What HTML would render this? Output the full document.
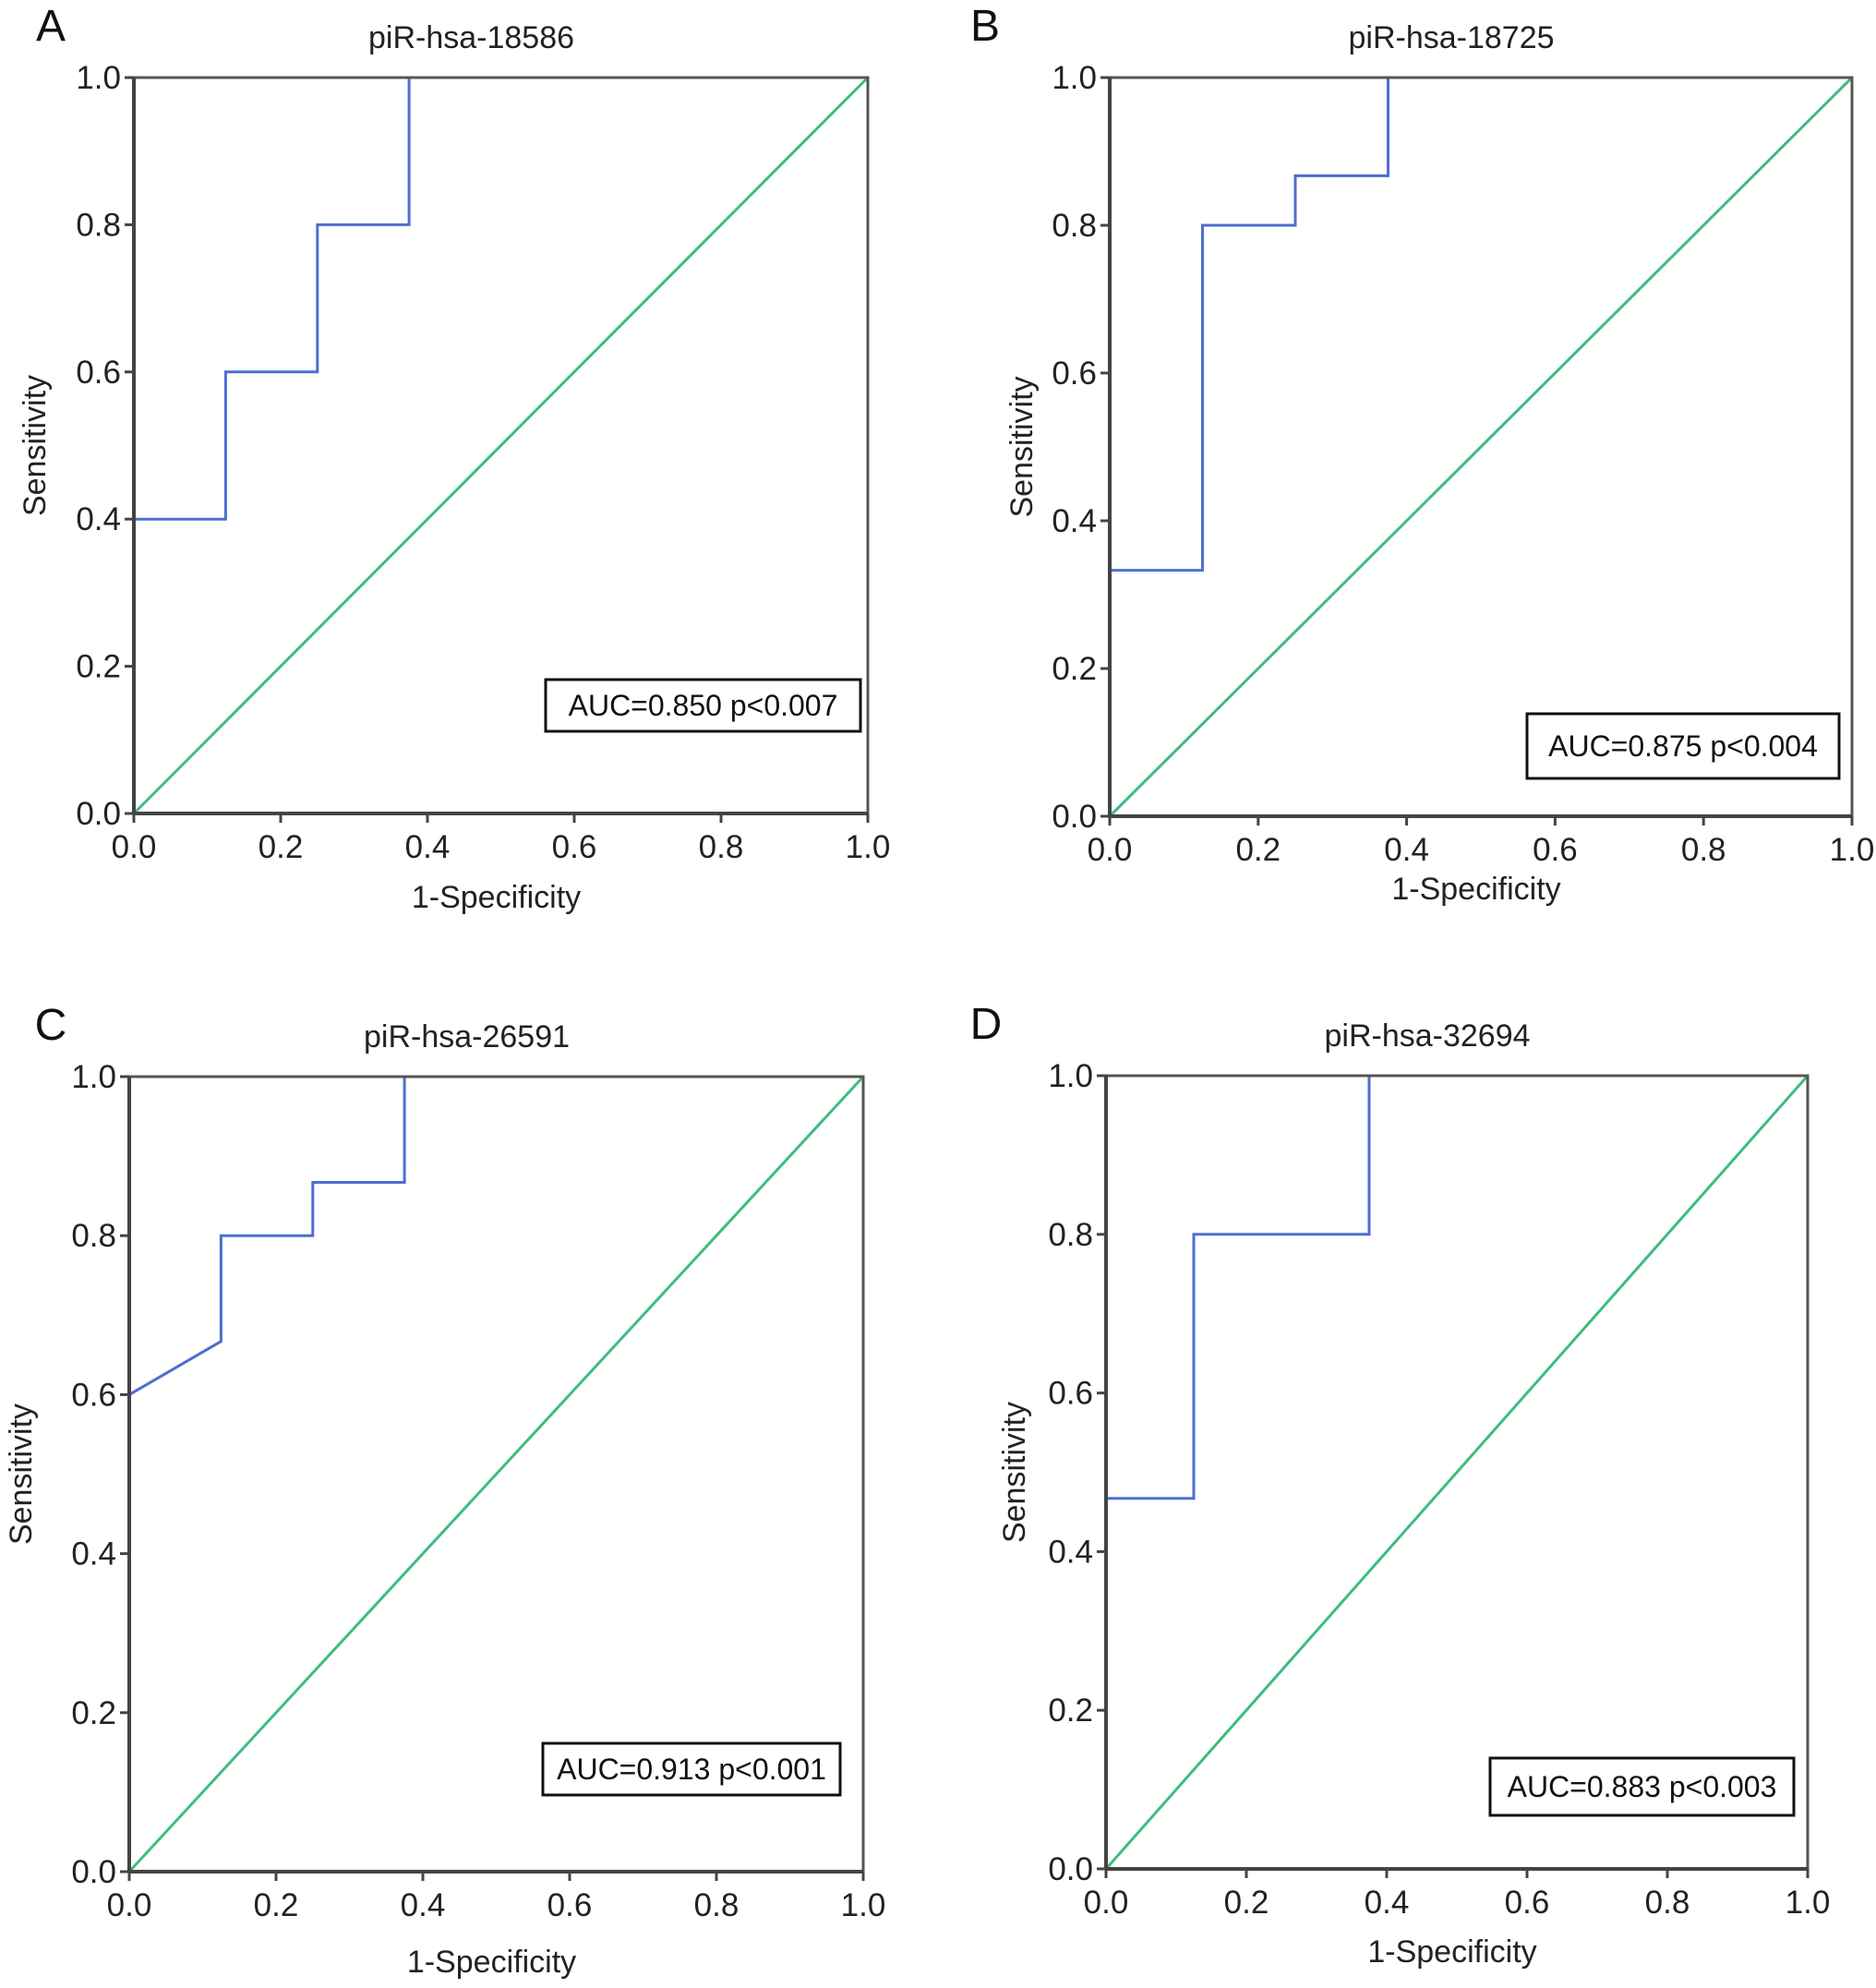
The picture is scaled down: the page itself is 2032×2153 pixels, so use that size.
<!DOCTYPE html>
<html><head><meta charset="utf-8"><style>
html,body{margin:0;padding:0;background:#fff;}
svg{display:block;font-family:"Liberation Sans",Arial,sans-serif;}
</style></head><body>
<svg id="fig" width="2032" height="2153" viewBox="0 0 2032 2153" xmlns="http://www.w3.org/2000/svg"></svg>
<script>
const panelLetters = ["A","B","C","D"];
const panelTitles = ["piR-hsa-18586","piR-hsa-18725","piR-hsa-26591","piR-hsa-32694"];
const aucLabels = ["AUC=0.850 p<0.007","AUC=0.875 p<0.004","AUC=0.913 p<0.001","AUC=0.883 p<0.003"];
const rocFprA = [0,0,0.125,0.125,0.25,0.25,0.375,0.375,1];
const rocTprA = [0,0.4,0.4,0.6,0.6,0.8,0.8,1,1];
const rocFprB = [0,0,0.125,0.125,0.25,0.25,0.375,0.375,1];
const rocTprB = [0,0.333,0.333,0.8,0.8,0.867,0.867,1,1];
const rocFprC = [0,0,0.125,0.125,0.25,0.25,0.375,0.375,1];
const rocTprC = [0,0.6,0.667,0.8,0.8,0.867,0.867,1,1];
const rocFprD = [0,0,0.125,0.125,0.375,0.375,1];
const rocTprD = [0,0.467,0.467,0.8,0.8,1,1];
const tickValues = [0,0.2,0.4,0.6,0.8,1.0];
const tickLabels = ["0.0","0.2","0.4","0.6","0.8","1.0"];

const layouts = [
 {l:145,r:940,t:84,b:881,box:[591,736,932,792],xt:971,lx:55,yx:-96},
 {l:1202,r:2006,t:84,b:884,box:[1654,773,1992,843],xt:962,lx:1067,yx:-84},
 {l:140,r:935,t:1166,b:2027,box:[588,1888,910,1944],xt:2124,lx:55,yx:-106},
 {l:1198,r:1958,t:1165,b:2024,box:[1614,1904,1943,1966],xt:2113,lx:1068,yx:-88}
];
const series = [[rocFprA,rocTprA],[rocFprB,rocTprB],[rocFprC,rocTprC],[rocFprD,rocTprD]];
const svg = document.getElementById('fig');
const NS = "http://www.w3.org/2000/svg";
function mk(tag, attrs, parent){
  const e = document.createElementNS(NS, tag);
  for (const k in attrs) e.setAttribute(k, attrs[k]);
  (parent||svg).appendChild(e);
  return e;
}
layouts.forEach((L, i) => {
  const g = mk('g', {});
  
  
  const xs = v => L.l + v*(L.r-L.l);
  const ys = v => L.b - v*(L.b-L.t);
  const cx = (L.l+L.r)/2, cy = (L.t+L.b)/2;
  let t = mk('text', {x:L.lx, y:L.t-40, 'font-size':48, 'text-anchor':'middle', fill:'#111'}, g);
  t.textContent = panelLetters[i];
  
  
  t = mk('text', {x:cx-32, y:L.t-32, 'font-size':34, 'text-anchor':'middle', fill:'#222'}, g);
  t.textContent = panelTitles[i];
  
  
  const d = mk('line', {x1:xs(0), y1:ys(0), x2:xs(1), y2:ys(1), stroke:'#3dbd7d', 'stroke-width':3}, g);
  
  
  const [fx, ty] = series[i];
  const pts = fx.map((v,k) => xs(v).toFixed(1)+','+ys(ty[k]).toFixed(1)).join(' ');
  const p = mk('polyline', {points:pts, fill:'none', stroke:'#4d6fd0', 'stroke-width':3}, g);
  
  
  const f = mk('rect', {x:L.l, y:L.t, width:L.r-L.l, height:L.b-L.t, fill:'none', stroke:'#555', 'stroke-width':3}, g);
  
  
  mk('line', {x1:L.l, y1:L.t, x2:L.l, y2:L.b, stroke:'#444', 'stroke-width':4}, g);
  mk('line', {x1:L.l, y1:L.b, x2:L.r, y2:L.b, stroke:'#444', 'stroke-width':4}, g);
  tickValues.forEach((v, k) => {
    mk('line', {x1:xs(v), y1:L.b, x2:xs(v), y2:L.b+10, stroke:'#444', 'stroke-width':3}, g);
    mk('line', {x1:L.l-10, y1:ys(v), x2:L.l, y2:ys(v), stroke:'#444', 'stroke-width':3}, g);
    let a = mk('text', {x:xs(v), y:L.b+48, 'font-size':35, 'text-anchor':'middle', fill:'#222'}, g);
    a.textContent = tickLabels[k];
    
    
    a = mk('text', {x:L.l-14, y:ys(v)+12, 'font-size':35, 'text-anchor':'end', fill:'#222'}, g);
    a.textContent = tickLabels[k];
    
    
  });
  t = mk('text', {x:cx-5, y:L.xt+12, 'font-size':34, 'text-anchor':'middle', fill:'#222'}, g);
  t.textContent = '1-Specificity';
  
  
  const yx = L.l + L.yx;
  t = mk('text', {x:yx, y:cy, 'font-size':34, 'text-anchor':'middle', fill:'#222', transform:'rotate(-90 '+yx+' '+cy+')'}, g);
  t.textContent = 'Sensitivity';
  
  
  const B = L.box;
  const r = mk('rect', {x:B[0], y:B[1], width:B[2]-B[0], height:B[3]-B[1], fill:'#fff', stroke:'#111', 'stroke-width':3}, g);
  
  
  t = mk('text', {x:(B[0]+B[2])/2, y:(B[1]+B[3])/2+11, 'font-size':32, 'text-anchor':'middle', fill:'#111'}, g);
  t.textContent = aucLabels[i];
  
  
});
</script>
</body></html>
